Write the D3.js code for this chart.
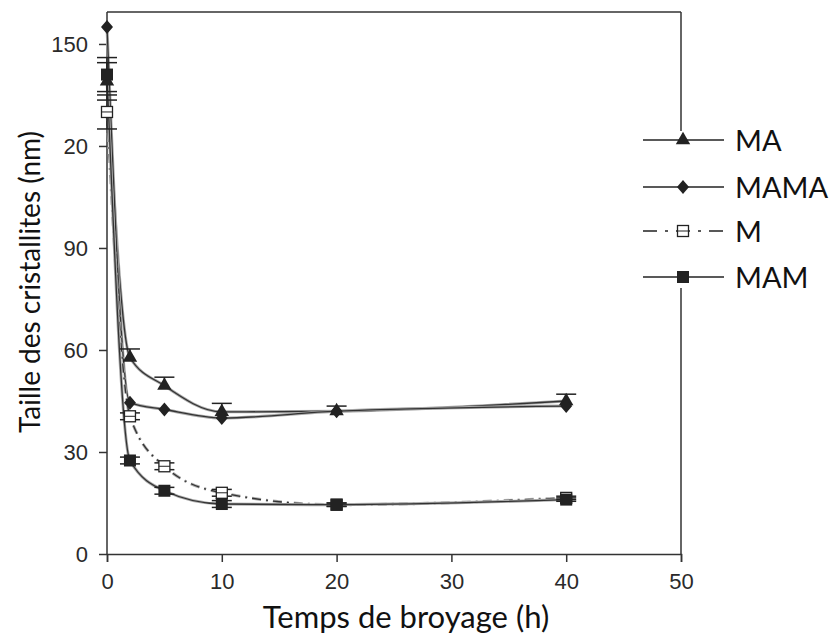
<!DOCTYPE html>
<html>
<head>
<meta charset="utf-8">
<script src="https://cdn.jsdelivr.net/npm/d3@7"></script>
<style>
  body { margin: 0; background: #fff; }
  svg { display: block; }
</style>
</head>
<body>
<div class="container"></div>
<script>
const w = 834;
const h = 636;
const margin = { top: 12, right: 153, bottom: 82, left: 107 };
const width = w - margin.left - margin.right;
const height = h - margin.top - margin.bottom;

// data
const times = [0, 2, 5, 10, 20, 40];
const seriesNames = ['MA', 'MAMA', 'M', 'MAM'];
const valMA   = [139, 57.8, 49.5, 41.8, 42, 45];
const valMAMA = [155, 44.5, 42.5, 40, 42, 43.5];
const valM    = [130, 40.5, 25.8, 18, 14.5, 16.5];
const valMAM  = [141, 27.5, 18.6, 14.7, 14.5, 16];
const errMA   = [5.5, 2.5, 2.5, 2.5, 1.5, 2];
const errM    = [5, 1, 1, 1, 0.5, 0.5];
const errMAM  = [5, 1, 1, 1, 0.5, 0.5];
const xTicks = [0, 10, 20, 30, 40, 50];
const yTicks = [0, 30, 60, 90, 120, 150];
const yTickLabels = ['0', '30', '60', '90', '20', '150'];

const series = [
  { name: seriesNames[0], values: valMA,   err: errMA,  marker: 'triangle', dash: null, up: true },
  { name: seriesNames[1], values: valMAMA, err: null,   marker: 'diamond',  dash: null },
  { name: seriesNames[2], values: valM,    err: errM,   marker: 'open',     dash: '9,5,2,5' },
  { name: seriesNames[3], values: valMAM,  err: errMAM, marker: 'square',   dash: null }
];

const svg = d3.select('.container').append('svg')
  .attr('width', w)
  .attr('height', h);

const chart = svg.append('g')
  .attr('transform', `translate(${margin.left},${margin.top})`);

const x = d3.scaleLinear().domain([0, 50]).range([0, width]);
const y = d3.scaleLinear().domain([0, 159.4]).range([height, 0]);

// frame
chart.append('line').attr('x1', 0).attr('x2', width).attr('y1', 0).attr('y2', 0)
  .attr('stroke', '#333').attr('stroke-width', 1.5);
chart.append('line').attr('x1', width).attr('x2', width).attr('y1', 0).attr('y2', height)
  .attr('stroke', '#333').attr('stroke-width', 1.5);

const xAxis = chart.append('g')
  .attr('transform', `translate(0,${height})`)
  .call(d3.axisBottom(x).tickValues(xTicks).tickSize(8).tickPadding(11));

const yAxis = chart.append('g')
  .call(d3.axisLeft(y).tickValues(yTicks).tickSize(8).tickPadding(11)
    .tickFormat((d, i) => yTickLabels[i]));

[xAxis, yAxis].forEach(a => {
  a.selectAll('.domain').attr('stroke', '#333').attr('stroke-width', 1.5);
  a.selectAll('.tick line').attr('stroke', '#333').attr('stroke-width', 1.5);
  a.selectAll('.tick text')
    .attr('fill', '#2a2a2a')
    .style('font-family', '"Liberation Sans", Arial, sans-serif')
    .style('font-size', '22px');
});
// y axis line runs up to the top of the frame
yAxis.select('.domain').attr('d', `M-0,${height}V0`);

const line = d3.line()
  .x((d, i) => x(times[i]))
  .y(d => y(d))
  .curve(d3.curveMonotoneX);

// lines: light grey shadow + dark line, like the scanned figure
series.forEach(s => {
  chart.append('path')
    .datum(s.values)
    .attr('fill', 'none')
    .attr('stroke', '#aaa')
    .attr('stroke-width', 3)
    .attr('stroke-dasharray', s.dash)
    .attr('d', line);
  chart.append('path')
    .datum(s.values)
    .attr('fill', 'none')
    .attr('stroke', '#333')
    .attr('stroke-width', 1.3)
    .attr('stroke-dasharray', s.dash)
    .attr('d', line);
});

// error bars
series.filter(s => s.err).forEach(s => {
  const g = chart.append('g').attr('stroke', '#222').attr('stroke-width', 1.5);
  s.values.forEach((v, i) => {
    const e = s.err[i];
    const upOnly = s.up && i > 0;
    const lo = upOnly ? v : v - e;
    g.append('line').attr('x1', x(times[i])).attr('x2', x(times[i]))
      .attr('y1', y(lo)).attr('y2', y(v + e));
    g.append('line').attr('x1', x(times[i]) - 10).attr('x2', x(times[i]) + 10)
      .attr('y1', y(v + e)).attr('y2', y(v + e));
    if (!upOnly) {
      g.append('line').attr('x1', x(times[i]) - 10).attr('x2', x(times[i]) + 10)
        .attr('y1', y(v - e)).attr('y2', y(v - e));
    }
  });
});

function drawMarker(g, type, cx, cy) {
  if (type === 'triangle') {
    g.append('path').attr('d', d3.symbol(d3.symbolTriangle, 90)())
      .attr('transform', `translate(${cx},${cy})`).attr('fill', '#222');
  } else if (type === 'diamond') {
    g.append('path').attr('d', 'M0,-7L6,0L0,7L-6,0Z')
      .attr('transform', `translate(${cx},${cy})`).attr('fill', '#222');
  } else if (type === 'square') {
    g.append('rect').attr('x', cx - 6).attr('y', cy - 6).attr('width', 12).attr('height', 12)
      .attr('fill', '#222');
  } else {
    g.append('rect').attr('x', cx - 5.5).attr('y', cy - 5.5).attr('width', 11).attr('height', 11)
      .attr('fill', '#fff').attr('stroke', '#222').attr('stroke-width', 1.3);
    g.append('line').attr('x1', cx - 5.5).attr('x2', cx + 5.5).attr('y1', cy).attr('y2', cy)
      .attr('stroke', '#222').attr('stroke-width', 1);
  }
}

// markers
series.forEach(s => {
  const g = chart.append('g');
  s.values.forEach((v, i) => drawMarker(g, s.marker, x(times[i]), y(v)));
});

// legend
const legendY = [140, 187, 231, 277];
const legend = svg.append('g');
legend.append('rect').attr('x', 640).attr('y', 131).attr('width', 194).attr('height', 157)
  .attr('fill', '#fff');
series.forEach((s, i) => {
  const ly = legendY[i];
  legend.append('line').attr('x1', 643).attr('x2', 724).attr('y1', ly).attr('y2', ly)
    .attr('stroke', '#222').attr('stroke-width', 1.5)
    .attr('stroke-dasharray', s.dash ? '14,8,3,8' : null);
  drawMarker(legend, s.marker, 683, ly);
  legend.append('text')
    .attr('x', 735).attr('y', ly + 11)
    .attr('fill', '#111')
    .style('font-family', 'Lato, "Open Sans", sans-serif')
    .style('font-size', '29px')
    .text(s.name);
});

// axis titles
svg.append('text')
  .attr('x', 406).attr('y', 628)
  .attr('text-anchor', 'middle')
  .attr('fill', '#111')
  .style('font-family', 'Lato, "Open Sans", sans-serif')
  .style('font-size', '31px')
  .text('Temps de broyage (h)');

svg.append('text')
  .attr('transform', 'translate(40,282) rotate(-90)')
  .attr('text-anchor', 'middle')
  .attr('fill', '#111')
  .style('font-family', 'Lato, "Open Sans", sans-serif')
  .style('font-size', '28px')
  .text('Taille des cristallites (nm)');
</script>
</body>
</html>
